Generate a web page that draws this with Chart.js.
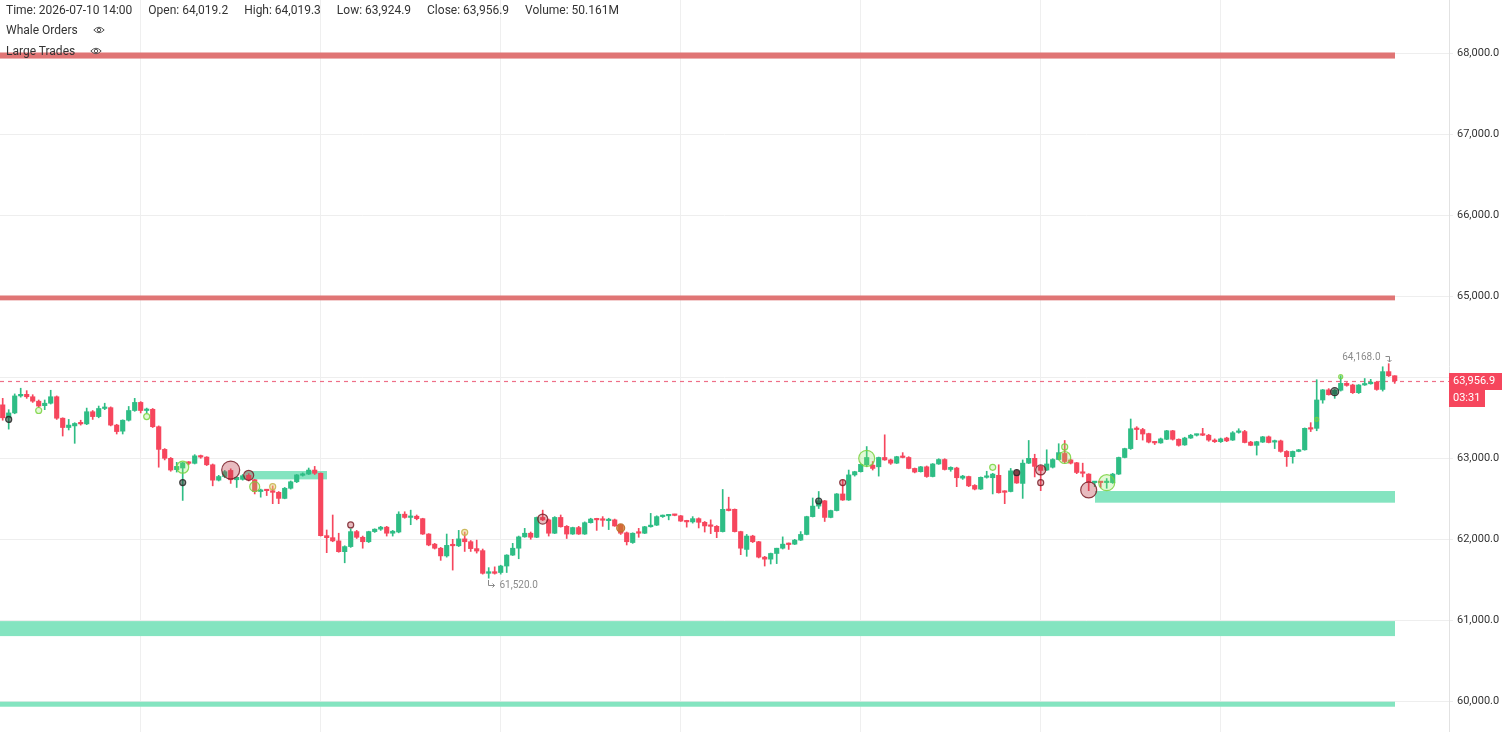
<!DOCTYPE html>
<html>
<head>
<meta charset="utf-8">
<title>BTC candles</title>
<script src="https://cdn.jsdelivr.net/npm/chart.js@4.4.1/dist/chart.umd.min.js"></script>
<style>
  html, body { margin: 0; padding: 0; background: #fff; overflow: hidden; }
  #wrap { position: relative; width: 1512px; height: 732px; }
  #chart { position: absolute; left: 0; top: 0; }
  .row { position: absolute; left: 6px; font: 12px Roboto, sans-serif; color: #333;
         display: flex; align-items: center; white-space: nowrap; height: 18px; }
  .row.info { gap: 16px; }
  .row svg { margin-left: 15px; }
</style>
</head>
<body>
<div id="wrap">
  <canvas id="chart" width="1512" height="732"></canvas>
  <div class="row info" id="info" style="top:1px"></div>
  <div class="row" style="top:21px">Whale Orders<svg width="12" height="10" viewBox="0 0 12 10"><path d="M0.8 5 Q6 -0.5 11.2 5 Q6 10.5 0.8 5Z" fill="none" stroke="#555" stroke-width="1"/><circle cx="6" cy="5" r="1.7" fill="none" stroke="#555" stroke-width="1"/></svg></div>
  <div class="row" style="top:42px">Large Trades<svg width="12" height="10" viewBox="0 0 12 10"><path d="M0.8 5 Q6 -0.5 11.2 5 Q6 10.5 0.8 5Z" fill="none" stroke="#555" stroke-width="1"/><circle cx="6" cy="5" r="1.7" fill="none" stroke="#555" stroke-width="1"/></svg></div>
</div>
<script>
// ── Candle data ────────────────────────────────────────────────
const opens = [
  63660,63500,63560,63770,63790,63760,63705,63650,63680,63760,
  63495,63380,63400,63430,63425,63575,63515,63615,63625,63410,
  63335,63470,63590,63690,63590,63605,63390,63110,63000,62860,
  62880,62940,62938,63030,63015,62920,62730,62775,62850,62735,
  62740,62790,62735,62590,62610,62600,62580,62505,62630,62710,
  62790,62805,62855,62815,62045,62020,61980,61847,61910,62095,
  62025,61970,62095,62125,62150,62075,62090,62310,62270,62285,
  62255,62065,61940,61890,61795,61935,61920,62005,61970,61885,
  61860,61580,61600,61590,61670,61805,61890,62030,62075,62025,
  62270,62240,62075,62270,62160,62065,62145,62065,62205,62250,
  62240,62230,62240,62175,62080,61960,62090,62075,62155,62175,
  62280,62290,62305,62290,62225,62215,62255,62210,62165,62160,
  62095,62370,62370,62095,61875,62040,61970,61780,61755,61825,
  61890,61945,61940,61990,62060,62280,62410,62475,62270,62355,
  62560,62485,62795,62835,62920,62915,62895,63010,62980,62940,
  63025,63010,62875,62835,62895,62775,62930,62985,62862,62880,
  62755,62775,62665,62620,62765,62760,62790,62590,62590,62845,
  62690,62940,63000,62900,62855,62890,62985,63060,62980,62945,
  62820,62805,62700,62710,62700,62700,62805,63010,63120,63365,
  63355,63305,63200,63190,63235,63340,63235,63165,63250,63285,
  63290,63285,63225,63205,63250,63225,63320,63330,63200,63160,
  63200,63265,63200,63215,63085,63020,63085,63105,63375,63370,
  63720,63845,63790,63840,63925,63905,63810,63905,63920,63940,
  63850,64070,64019.2
];
const highs = [
  63740,63600,63795,63865,63835,63785,63720,63720,63840,63770,
  63500,63480,63440,63470,63620,63590,63645,63680,63635,63420,
  63475,63640,63740,63700,63620,63615,63400,63120,63010,62950,
  62950,62960,63045,63040,63020,62930,62790,62850,62870,62770,
  62800,62810,62740,62620,62615,62660,62590,62640,62720,62800,
  62820,62880,62900,62820,62115,62300,62075,61920,62130,62110,
  62040,62100,62130,62160,62160,62110,62340,62340,62360,62300,
  62260,62070,61950,61900,62065,62000,62110,62090,61985,61990,
  61880,61650,61660,61680,61810,61950,62040,62135,62090,62275,
  62360,62250,62280,62300,62170,62150,62160,62215,62260,62260,
  62280,62260,62250,62185,62090,62080,62135,62160,62320,62290,
  62300,62305,62310,62295,62235,62280,62265,62220,62240,62170,
  62615,62520,62375,62100,62060,62050,61975,61790,61830,61890,
  62030,61955,62000,62095,62285,62510,62590,62480,62360,62565,
  62730,62855,62840,62930,63145,62960,63015,63290,62990,63025,
  63070,63020,62880,62900,62905,62935,62995,62995,62895,62890,
  62790,62780,62675,62770,62840,62815,62920,62600,62875,62860,
  62980,63220,63050,62910,63105,62995,63180,63220,62990,62950,
  62940,62810,62715,62715,62750,62815,63015,63125,63485,63390,
  63370,63310,63210,63250,63345,63345,63240,63260,63295,63300,
  63370,63295,63240,63250,63260,63330,63365,63345,63210,63210,
  63270,63275,63225,63225,63095,63090,63110,63375,63440,63970,
  63850,63860,63850,64020,63935,63915,63910,63985,63975,63950,
  64130,64168,64019.3
];
const lows = [
  63470,63360,63550,63755,63740,63690,63630,63600,63670,63480,
  63275,63350,63185,63410,63415,63480,63500,63600,63400,63300,
  63300,63460,63580,63560,63560,63380,62890,62980,62840,62830,
  62480,62920,62930,63000,62910,62660,62720,62760,62690,62640,
  62730,62720,62560,62520,62540,62440,62440,62500,62620,62700,
  62780,62800,62800,62040,61835,61970,61840,61710,61900,62010,
  61890,61960,62085,62110,62040,62040,62080,62260,62180,62240,
  62060,61920,61880,61740,61780,61620,61910,61850,61850,61830,
  61570,61520,61570,61570,61590,61800,61760,62025,62000,62020,
  62230,62040,62070,62150,62010,62060,62060,62060,62200,62110,
  62160,62120,62160,62060,61930,61950,62025,62070,62150,62170,
  62270,62240,62290,62220,62150,62200,62140,62090,62070,62020,
  62090,62350,62090,61810,61790,61960,61770,61670,61695,61700,
  61880,61875,61935,61985,62055,62275,62380,62220,62265,62350,
  62480,62480,62780,62830,62895,62855,62780,62975,62925,62935,
  63005,62870,62820,62830,62765,62770,62925,62855,62840,62650,
  62740,62650,62610,62615,62755,62560,62570,62440,62585,62690,
  62505,62935,62770,62600,62850,62880,62980,62940,62930,62810,
  62770,62600,62650,62640,62630,62690,62800,63005,63110,63230,
  63225,63190,63170,63185,63230,63225,63150,63160,63245,63275,
  63280,63210,63195,63195,63205,63220,63310,63190,63155,63040,
  63195,63190,63120,63075,62900,62940,63080,63100,63330,63340,
  63680,63780,63740,63830,63890,63800,63800,63900,63915,63840,
  63830,64010,63924.9
];
const closes = [
  63500,63560,63770,63790,63760,63705,63645,63680,63760,63495,
  63380,63410,63430,63425,63575,63515,63615,63625,63410,63330,
  63470,63590,63690,63590,63605,63390,63110,63000,62855,62900,
  62945,62938,63030,63015,62920,62730,62775,62835,62735,62765,
  62785,62735,62590,62610,62600,62580,62505,62630,62710,62795,
  62805,62855,62815,62045,62020,61980,61847,61910,62095,62025,
  61970,62095,62125,62150,62075,62100,62310,62270,62285,62255,
  62065,61930,61890,61795,61925,61920,62005,61970,61885,61855,
  61580,61600,61580,61670,61805,61890,62030,62075,62025,62270,
  62240,62075,62270,62155,62065,62145,62065,62205,62250,62240,
  62235,62245,62165,62075,61970,62075,62075,62155,62175,62280,
  62290,62300,62295,62225,62215,62255,62210,62165,62160,62095,
  62370,62355,62095,61890,62040,61970,61780,61755,61825,61890,
  61940,61935,61990,62060,62280,62410,62475,62270,62355,62560,
  62485,62795,62835,62925,63010,62875,63010,62980,62940,63020,
  63010,62875,62830,62895,62775,62930,62985,62862,62888,62760,
  62780,62660,62620,62765,62780,62805,62575,62580,62845,62695,
  62940,63000,62900,62850,62930,62985,63070,62960,62940,62825,
  62815,62700,62710,62700,62710,62805,63010,63120,63365,63355,
  63300,63200,63190,63240,63340,63235,63160,63250,63285,63295,
  63285,63225,63205,63240,63215,63315,63330,63195,63160,63205,
  63265,63195,63215,63085,63020,63085,63105,63370,63360,63720,
  63845,63785,63840,63925,63900,63810,63905,63920,63940,63850,
  64070,64019,63956.9
];
const lastVolume = '50.161M';
const lastTime = '2026-07-10 14:00';
const countdown = '03:31';

// price axis labels and the vertical grid positions (candle index)
const priceTicks = [60000, 61000, 62000, 63000, 64000, 65000, 66000, 67000, 68000];
const timeGridIdx = [23, 53, 83, 113, 143, 173, 203];

// order-book walls: candle index span and price span
const bandSide = ['ask', 'ask', 'bid', 'bid', 'bid', 'bid'];
const bandFrom = [-0.45, -0.45, -0.45, -0.45, 182.05, 40.4];
const bandTo   = [232.05, 232.05, 232.05, 232.05, 232.05, 54.05];
const bandLow  = [67935, 64950, 60805, 59933, 62452, 62740];
const bandHigh = [68010, 65010, 60990, 59995, 62596, 62843];

// whale orders / large trades markers
const markIdx   = [1, 6, 24, 30, 30, 38, 41, 42, 45, 58, 77, 90, 103, 136, 140, 144, 165, 169, 173, 173, 177, 177, 181, 184, 219, 222, 223];
const markPrice = [63480, 63590, 63515, 62890, 62700, 62855, 62790, 62650, 62650, 62177, 62086, 62250, 62140, 62473, 62700, 63000, 62888, 62823, 62856, 62699, 63140, 63010, 62609, 62699, 63481, 63823, 64008];
const markSize  = [3, 3, 3, 6, 3, 9, 5, 5, 3, 3, 3, 5, 4, 3, 3, 8, 3, 3, 5, 3, 3, 6, 8, 8, 2, 4, 2];
const markKind  = ['dark', 'buy', 'buy', 'buy', 'dark', 'sell', 'sell', 'buy', 'yellow', 'sell', 'yellow', 'sell', 'orange', 'dark', 'sell', 'buy', 'buy', 'dark', 'sell', 'sell', 'buy', 'buy', 'sell', 'buy', 'buy', 'dark', 'buy'];

// ── Styles ─────────────────────────────────────────────────────
const UP = '#2EBD85';
const DOWN = '#F6465D';
const BAND = { ask: '#e07575', bid: '#84e4c0' };
const MARK_FILL = {
  sell: 'rgba(190,60,72,0.35)', buy: 'rgba(140,230,90,0.25)', dark: 'rgba(40,60,50,0.55)',
  yellow: 'rgba(230,210,120,0.45)', orange: 'rgba(200,120,40,0.7)'
};
const MARK_LINE = {
  sell: 'rgba(120,30,40,0.85)', buy: 'rgba(120,210,60,0.85)', dark: 'rgba(40,40,40,0.85)',
  yellow: 'rgba(200,180,80,0.9)', orange: 'rgba(190,110,40,0.9)'
};

const fmt = (v, d) => v.toLocaleString('en-US', { minimumFractionDigits: d, maximumFractionDigits: d });
const candleColors = opens.map((o, i) => (closes[i] >= o ? UP : DOWN));
const n = opens.length - 1;

// header line
document.getElementById('info').innerHTML = [
  'Time: ' + lastTime,
  'Open: ' + fmt(opens[n], 1),
  'High: ' + fmt(highs[n], 1),
  'Low: ' + fmt(lows[n], 1),
  'Close: ' + fmt(closes[n], 1),
  'Volume: ' + lastVolume
].map(t => '<span>' + t + '</span>').join('');

// ── Overlay plugin: walls, last price line, tags ───────────────
const overlay = {
  id: 'overlay',
  beforeDatasetsDraw(chart) {
    const { ctx, chartArea: a, scales: { x, y } } = chart;
    ctx.save();
    for (let k = 0; k < bandLow.length; k++) {
      const x0 = Math.max(a.left, x.getPixelForValue(bandFrom[k]));
      const x1 = x.getPixelForValue(bandTo[k]);
      const y0 = y.getPixelForValue(bandHigh[k]);
      const y1 = y.getPixelForValue(bandLow[k]);
      ctx.fillStyle = BAND[bandSide[k]];
      ctx.fillRect(x0, y0, x1 - x0, y1 - y0);
    }
    const py = Math.round(y.getPixelForValue(closes[n])) + 0.5;
    ctx.strokeStyle = '#ee7088';
    ctx.lineWidth = 1.2;
    ctx.setLineDash([4, 4]);
    ctx.beginPath();
    ctx.moveTo(a.left, py);
    ctx.lineTo(a.right, py);
    ctx.stroke();
    ctx.restore();
  },
  afterDraw(chart) {
    const { ctx, chartArea: a, scales: { x, y } } = chart;
    ctx.save();
    // last price tag + countdown
    const py = Math.round(y.getPixelForValue(closes[n]));
    ctx.fillStyle = DOWN;
    ctx.fillRect(a.right, py - 8, 53, 17);
    ctx.fillRect(a.right, py + 9, 36, 17);
    ctx.fillStyle = '#fff';
    ctx.font = '11px Roboto, sans-serif';
    ctx.textBaseline = 'middle';
    ctx.textAlign = 'left';
    ctx.fillText(fmt(closes[n], 1), a.right + 4, py + 0.5);
    ctx.fillText(countdown, a.right + 4, py + 17.5);

    // highest high / lowest low labels
    let hi = 0, lo = 0;
    highs.forEach((v, i) => { if (v > highs[hi]) hi = i; });
    lows.forEach((v, i) => { if (v < lows[lo]) lo = i; });
    ctx.font = '10px Roboto, sans-serif';
    ctx.fillStyle = '#8a8a8a';
    ctx.strokeStyle = '#8a8a8a';
    ctx.lineWidth = 1;

    const hx = Math.round(x.getPixelForValue(hi)) + 0.5;
    const hy = Math.round(y.getPixelForValue(highs[hi]));
    ctx.textAlign = 'right';
    ctx.fillText(fmt(highs[hi], 1), hx - 9, hy - 7);
    ctx.beginPath();
    ctx.moveTo(hx - 4, hy - 7.5); ctx.lineTo(hx, hy - 7.5); ctx.lineTo(hx, hy - 2);
    ctx.moveTo(hx - 2, hy - 4); ctx.lineTo(hx, hy - 2); ctx.lineTo(hx + 2, hy - 4);
    ctx.stroke();

    const lx = Math.round(x.getPixelForValue(lo)) - 0.5;
    const ly = Math.round(y.getPixelForValue(lows[lo]));
    ctx.textAlign = 'left';
    ctx.fillText(fmt(lows[lo], 1), lx + 11, ly + 7);
    ctx.beginPath();
    ctx.moveTo(lx, ly + 2); ctx.lineTo(lx, ly + 7.5); ctx.lineTo(lx + 6, ly + 7.5);
    ctx.moveTo(lx + 4, ly + 5.5); ctx.lineTo(lx + 6, ly + 7.5); ctx.lineTo(lx + 4, ly + 9.5);
    ctx.stroke();
    ctx.restore();
  }
};

// ── Chart ──────────────────────────────────────────────────────
new Chart(document.getElementById('chart'), {
  type: 'bar',
  data: {
    datasets: [
      {
        type: 'bubble',
        data: markIdx.map((v, i) => ({ x: v, y: markPrice[i], r: markSize[i] })),
        backgroundColor: markKind.map(k => MARK_FILL[k]),
        borderColor: markKind.map(k => MARK_LINE[k]),
        borderWidth: 1.2,
        order: 0
      },
      {
        data: opens.map((o, i) => ({ x: i, y: [o, closes[i]] })),
        backgroundColor: candleColors,
        barThickness: 4.5,
        minBarLength: 1.5,
        grouped: false,
        order: 1
      },
      {
        data: opens.map((o, i) => ({ x: i, y: [lows[i], highs[i]] })),
        backgroundColor: candleColors,
        barThickness: 1,
        grouped: false,
        order: 2
      }
    ]
  },
  options: {
    responsive: false,
    animation: false,
    layout: { padding: 0, autoPadding: false },
    plugins: { legend: { display: false }, tooltip: { enabled: false } },
    scales: {
      x: {
        type: 'linear',
        min: -0.45,
        max: 241.05,
        offset: false,
        grid: { color: '#efefef', offset: false, drawTicks: false },
        border: { display: false },
        ticks: { display: false },
        afterBuildTicks: s => { s.ticks = timeGridIdx.map(v => ({ value: v })); },
        afterFit: s => { s.height = 0; s.paddingLeft = 0; s.paddingRight = 0; }
      },
      y: {
        position: 'right',
        min: 59621,
        max: 68658,
        grid: { color: '#eeeeee', tickLength: 4 },
        border: { display: true, color: '#e2e2e2' },
        ticks: {
          color: '#333',
          padding: 4,
          font: { family: 'Roboto, sans-serif', size: 11 },
          // the last-price tag hides the label it would overlap
          callback: v => (Math.abs(v - closes[n]) < 150 ? '' : fmt(v, 1))
        },
        afterBuildTicks: s => { s.ticks = priceTicks.map(v => ({ value: v })); },
        afterFit: s => { s.width = 63; s.paddingTop = 0; s.paddingBottom = 0; }
      }
    }
  },
  plugins: [overlay]
});
</script>
</body>
</html>
